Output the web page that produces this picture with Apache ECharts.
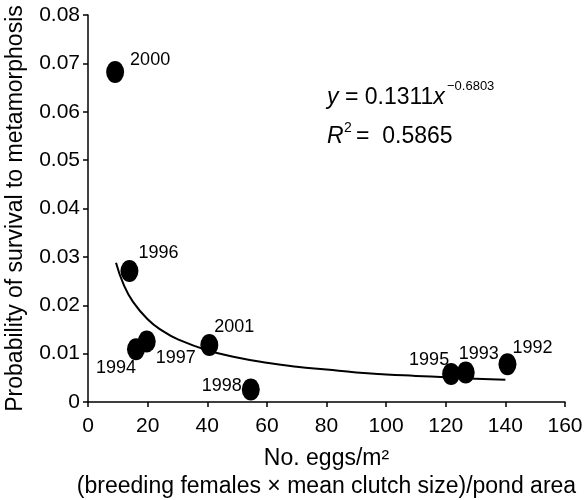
<!DOCTYPE html>
<html>
<head>
<meta charset="utf-8">
<script src="https://cdn.jsdelivr.net/npm/echarts@6/dist/echarts.min.js"></script>
<style>
  html, body { margin: 0; padding: 0; background: #fff; }
  #main { width: 584px; height: 500px; }
</style>
</head>
<body>
<div id="main"></div>
<script>
// years and measured points (eggs per m2, survival probability)
var years = ['2000', '1996', '1994', '1997', '2001', '1998', '1995', '1993', '1992'];
var eggs = [9.1, 13.9, 16.1, 19.7, 40.7, 54.6, 121.8, 126.7, 140.7];
var survival = [0.0682, 0.0271, 0.0109, 0.0125, 0.0118, 0.0026, 0.0058, 0.0061, 0.0078];

// fitted power curve
var fitX = [9.4, 12, 15, 20, 25, 30, 40, 50, 60, 70, 80, 90, 100, 110, 120, 130, 140];
var fitY = [0.0288, 0.0242, 0.0208, 0.0171, 0.0147, 0.0130, 0.0107, 0.0092, 0.0081,
            0.0073, 0.0067, 0.0061, 0.0057, 0.0054, 0.0051, 0.0048, 0.0046];

var xTicks = [0, 20, 40, 60, 80, 100, 120, 140, 160];
var yTicks = [0, 0.01, 0.02, 0.03, 0.04, 0.05, 0.06, 0.07, 0.08];

// where each year label sits relative to its dot
var labelOffsets = [[35, -12], [29, -18], [-20, 19], [29, 16], [25, -18],
                    [-29, -3], [-22, -14], [13, -18], [25, -16]];

var font = 'Liberation Sans, Arial, Helvetica, sans-serif';

var points = [];
for (var i = 0; i < years.length; i++) {
  points.push({
    name: years[i],
    value: [eggs[i], survival[i]],
    label: { offset: labelOffsets[i] }
  });
}
var curve = [];
for (var j = 0; j < fitX.length; j++) {
  curve.push([fitX[j], fitY[j]]);
}

var myChart = echarts.init(document.getElementById('main'));

var option = {
  backgroundColor: '#fff',
  animation: false,
  textStyle: { fontFamily: font, color: '#000' },
  grid: { left: 88, right: 19, top: 15, bottom: 98, containLabel: false, outerBoundsMode: 'none' },
  xAxis: {
    type: 'value',
    min: xTicks[0],
    max: xTicks[xTicks.length - 1],
    interval: xTicks[1] - xTicks[0],
    splitLine: { show: false },
    axisLine: { lineStyle: { color: '#000', width: 1.5 } },
    axisTick: { length: 5, lineStyle: { color: '#000', width: 1.5 } },
    axisLabel: { color: '#000', fontSize: 21, fontFamily: font, margin: 14 },
    name: 'No. eggs/m\u00b2\n(breeding females \u00d7 mean clutch size)/pond area',
    nameLocation: 'middle',
    nameGap: 43,
    nameTextStyle: { color: '#000', fontSize: 23, fontFamily: font, lineHeight: 28 }
  },
  yAxis: {
    type: 'value',
    min: yTicks[0],
    max: yTicks[yTicks.length - 1],
    interval: yTicks[1] - yTicks[0],
    splitLine: { show: false },
    axisLine: { show: true, lineStyle: { color: '#000', width: 1.5 } },
    axisTick: { show: true, length: 5, lineStyle: { color: '#000', width: 1.5 } },
    axisLabel: {
      color: '#000', fontSize: 21, fontFamily: font, margin: 8,
      formatter: function (v) { return v === 0 ? '0' : v.toFixed(2); }
    },
    name: 'Probability of survival to metamorphosis',
    nameLocation: 'middle',
    nameGap: 61,
    nameTextStyle: { color: '#000', fontSize: 23, fontFamily: font }
  },
  graphic: [
    {
      type: 'text', left: 327, top: 86,
      style: {
        text: '{i|y} = 0.1311{i|x}',
        font: '23px ' + font,
        fill: '#000',
        rich: { i: { fontStyle: 'italic', fontSize: 23, fontFamily: font } }
      }
    },
    {
      type: 'text', left: 447, top: 80,
      style: { text: '\u22120.6803', font: '13px ' + font, fill: '#000' }
    },
    {
      type: 'text', left: 327, top: 125,
      style: { text: 'R', font: 'italic 23px ' + font, fill: '#000' }
    },
    {
      type: 'text', left: 344, top: 121,
      style: { text: '2', font: '14px ' + font, fill: '#000' }
    },
    {
      type: 'text', left: 356, top: 125,
      style: { text: '=  0.5865', font: '23px ' + font, fill: '#000' }
    }
  ],
  series: [
    {
      name: 'fit',
      type: 'line',
      data: curve,
      smooth: true,
      showSymbol: false,
      lineStyle: { color: '#000', width: 2 },
      z: 2
    },
    {
      name: 'years',
      type: 'scatter',
      data: points,
      symbol: 'circle',
      symbolSize: [18, 22],
      itemStyle: { color: '#000', opacity: 1 },
      label: {
        show: true,
        position: 'inside',
        formatter: '{b}',
        color: '#000',
        fontSize: 18,
        fontFamily: font
      },
      z: 3
    }
  ]
};

myChart.setOption(option);
</script>
</body>
</html>
